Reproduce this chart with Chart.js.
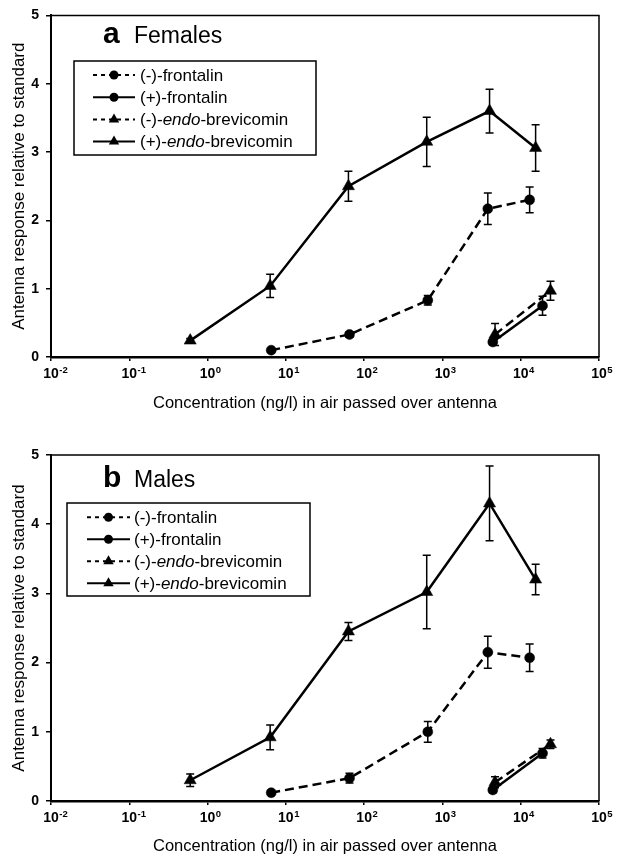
<!DOCTYPE html>
<html>
<head>
<meta charset="utf-8">
<script src="https://cdn.jsdelivr.net/npm/chart.js@4.4.1/dist/chart.umd.min.js"></script>
<style>
  html, body { margin: 0; padding: 0; background: #fff; }
  canvas { display: block; }
</style>
</head>
<body>
<canvas id="chartA" width="619" height="430"></canvas>
<canvas id="chartB" width="619" height="428"></canvas>
<script>
// axis ticks
const xTicks = [0.01, 0.1, 1, 10, 100, 1000, 10000, 100000];
const xTickExponents = ['-2', '-1', '0', '1', '2', '3', '4', '5'];
const yTicks = [0, 1, 2, 3, 4, 5];

const seriesLabels = ['(-)-frontalin', '(+)-frontalin', '(-)-endo-brevicomin', '(+)-endo-brevicomin'];

// panel a: females
const femMinusFrontalinX = [6.5, 65, 650, 3800, 13000];
const femMinusFrontalinY = [0.10, 0.33, 0.83, 2.17, 2.30];
const femMinusFrontalinErr = [0, 0.04, 0.07, 0.23, 0.19];

const femPlusFrontalinX = [4400, 19000];
const femPlusFrontalinY = [0.22, 0.75];
const femPlusFrontalinErr = [0.04, 0.14];

const femMinusEndoX = [4700, 24000];
const femMinusEndoY = [0.33, 0.97];
const femMinusEndoErr = [0.16, 0.14];

const femPlusEndoX = [0.6, 6.3, 63, 630, 4000, 15500];
const femPlusEndoY = [0.24, 1.04, 2.50, 3.15, 3.60, 3.06];
const femPlusEndoErr = [0.03, 0.17, 0.22, 0.36, 0.32, 0.34];

// panel b: males
const maleMinusFrontalinX = [6.5, 65, 650, 3800, 13000];
const maleMinusFrontalinY = [0.12, 0.33, 1.00, 2.15, 2.07];
const maleMinusFrontalinErr = [0, 0.07, 0.15, 0.23, 0.20];

const malePlusFrontalinX = [4400, 19000];
const malePlusFrontalinY = [0.16, 0.69];
const malePlusFrontalinErr = [0.04, 0.07];

const maleMinusEndoX = [4700, 24000];
const maleMinusEndoY = [0.27, 0.82];
const maleMinusEndoErr = [0.08, 0.06];

const malePlusEndoX = [0.6, 6.3, 63, 630, 4000, 15500];
const malePlusEndoY = [0.30, 0.92, 2.45, 3.02, 4.30, 3.20];
const malePlusEndoErr = [0.09, 0.18, 0.13, 0.53, 0.54, 0.22];

const FONT = '"Liberation Sans", Arial, Helvetica, sans-serif';

function toPoints(xs, ys) {
  return xs.map((x, i) => ({ x: x, y: ys[i] }));
}

function makeDataset(label, xs, ys, errs, dashed, pointStyle) {
  return {
    label: label,
    data: toPoints(xs, ys),
    errors: errs,
    borderColor: '#000',
    backgroundColor: '#000',
    borderWidth: 2.5,
    borderDash: dashed ? [9, 5] : [],
    legendDash: dashed ? [4, 4] : [],
    pointStyle: pointStyle,
    pointRadius: pointStyle === 'triangle' ? 7 : 5,
    pointBorderWidth: 0.5,
    tension: 0,
    fill: false,
  };
}

const errorBarsPlugin = {
  id: 'errorBars',
  beforeDatasetsDraw(chart) {
    const { ctx } = chart;
    const xs = chart.scales.x;
    const ys = chart.scales.y;
    ctx.save();
    ctx.strokeStyle = '#000';
    ctx.lineWidth = 1.5;
    chart.data.datasets.forEach((ds) => {
      if (!ds.errors) return;
      ds.data.forEach((pt, i) => {
        const e = ds.errors[i];
        if (!e) return;
        const px = xs.getPixelForValue(pt.x);
        const top = ys.getPixelForValue(pt.y + e);
        const bot = ys.getPixelForValue(pt.y - e);
        ctx.beginPath();
        ctx.moveTo(px, top); ctx.lineTo(px, bot);
        ctx.moveTo(px - 4, top); ctx.lineTo(px + 4, top);
        ctx.moveTo(px - 4, bot); ctx.lineTo(px + 4, bot);
        ctx.stroke();
      });
    });
    ctx.restore();
  },
};

function drawLabelWithItalic(ctx, text, x, y, size) {
  const parts = text.split('endo');
  let cx = x;
  parts.forEach((part, i) => {
    if (i > 0) {
      ctx.font = `italic ${size}px ${FONT}`;
      ctx.fillText('endo', cx, y);
      cx += ctx.measureText('endo').width;
    }
    ctx.font = `${size}px ${FONT}`;
    ctx.fillText(part, cx, y);
    cx += ctx.measureText(part).width;
  });
  return cx;
}

const decorPlugin = {
  id: 'decor',
  afterDraw(chart, args, opts) {
    const { ctx, chartArea } = chart;
    const xs = chart.scales.x;
    ctx.save();

    // frame top and right
    ctx.strokeStyle = '#000';
    ctx.lineWidth = 1.5;
    ctx.beginPath();
    ctx.moveTo(chartArea.left, chartArea.top);
    ctx.lineTo(chartArea.right, chartArea.top);
    ctx.lineTo(chartArea.right, chartArea.bottom);
    ctx.stroke();

    // x tick labels with superscripts
    ctx.fillStyle = '#000';
    ctx.textBaseline = 'alphabetic';
    xTicks.forEach((v, i) => {
      const px = xs.getPixelForValue(v);
      const base = chartArea.bottom + 21;
      ctx.font = `bold 14px ${FONT}`;
      ctx.textAlign = 'center';
      ctx.fillText('10', px, base);
      const w = ctx.measureText('10').width;
      ctx.font = `bold 9.5px ${FONT}`;
      ctx.textAlign = 'left';
      ctx.fillText(xTickExponents[i], px + w / 2 + 0.5, base - 5);
    });

    // panel title
    ctx.textAlign = 'left';
    ctx.font = `bold 30px ${FONT}`;
    ctx.fillText(opts.letter, opts.titleX, opts.titleY);
    ctx.font = `23px ${FONT}`;
    ctx.fillText(opts.title, opts.titleX + 31, opts.titleY);

    // legend
    const lg = opts.legend;
    ctx.lineWidth = 1.5;
    ctx.strokeRect(lg.left, lg.top, lg.right - lg.left, lg.bottom - lg.top);
    chart.data.datasets.forEach((ds, i) => {
      const y = lg.rowY + i * lg.rowGap;
      ctx.save();
      ctx.strokeStyle = '#000';
      ctx.lineWidth = 2;
      ctx.setLineDash(ds.legendDash);
      ctx.beginPath();
      ctx.moveTo(lg.sampleX0, y);
      ctx.lineTo(lg.sampleX1, y);
      ctx.stroke();
      ctx.restore();
      Chart.helpers.drawPoint(ctx, {
        pointStyle: ds.pointStyle,
        radius: ds.pointStyle === 'triangle' ? 6 : 4.5,
        borderWidth: 0,
        rotation: 0,
      }, (lg.sampleX0 + lg.sampleX1) / 2, y);
      ctx.fillStyle = '#000';
      ctx.textBaseline = 'middle';
      drawLabelWithItalic(ctx, ds.label, lg.textX, y + 1, 17);
    });
    ctx.restore();
  },
};

function buildChart(id, datasets, cfg) {
  return new Chart(document.getElementById(id), {
    type: 'line',
    data: { datasets: datasets },
    plugins: [errorBarsPlugin, decorPlugin],
    options: {
      responsive: false,
      animation: false,
      layout: { padding: { left: 0, right: 20, top: cfg.plotTop, bottom: 0 } },
      plugins: {
        legend: { display: false },
        tooltip: { enabled: false },
        decor: cfg.decor,
      },
      scales: {
        x: {
          type: 'logarithmic',
          min: 0.01,
          max: 100000,
          afterBuildTicks: (s) => { s.ticks = xTicks.map((v) => ({ value: v })); },
          afterFit: (s) => { s.height = cfg.xAxisHeight; },
          ticks: { display: false },
          grid: { drawOnChartArea: false, drawTicks: true, tickLength: 4, color: '#000', lineWidth: 1.5 },
          border: { display: true, color: '#000', width: 2.5 },
          title: {
            display: true,
            text: 'Concentration (ng/l) in air passed over antenna',
            color: '#000',
            font: { family: FONT, size: 16.5 },
            padding: { top: 0, bottom: cfg.xTitlePad },
          },
        },
        y: {
          min: 0,
          max: 5,
          afterBuildTicks: (s) => { s.ticks = yTicks.map((v) => ({ value: v })); },
          afterFit: (s) => { s.width = 51; },
          ticks: {
            color: '#000',
            padding: 7,
            font: { family: FONT, size: 14, weight: 'bold' },
          },
          grid: { drawOnChartArea: false, drawTicks: true, tickLength: 5, color: '#000', lineWidth: 1.5 },
          border: { display: true, color: '#000', width: 2 },
          title: {
            display: true,
            text: 'Antenna response relative to standard',
            color: '#000',
            font: { family: FONT, size: 17 },
            padding: { top: 9, bottom: 0 },
          },
        },
      },
    },
  });
}

buildChart('chartA', [
  makeDataset(seriesLabels[0], femMinusFrontalinX, femMinusFrontalinY, femMinusFrontalinErr, true, 'circle'),
  makeDataset(seriesLabels[1], femPlusFrontalinX, femPlusFrontalinY, femPlusFrontalinErr, false, 'circle'),
  makeDataset(seriesLabels[2], femMinusEndoX, femMinusEndoY, femMinusEndoErr, true, 'triangle'),
  makeDataset(seriesLabels[3], femPlusEndoX, femPlusEndoY, femPlusEndoErr, false, 'triangle'),
], {
  plotTop: 10,
  xAxisHeight: 73,
  xTitlePad: 17,
  decor: {
    letter: 'a', title: 'Females', titleX: 103, titleY: 43,
    legend: { left: 74, top: 61, right: 316, bottom: 155, rowY: 75, rowGap: 22.2, sampleX0: 93, sampleX1: 135, textX: 140 },
  },
});

buildChart('chartB', [
  makeDataset(seriesLabels[0], maleMinusFrontalinX, maleMinusFrontalinY, maleMinusFrontalinErr, true, 'circle'),
  makeDataset(seriesLabels[1], malePlusFrontalinX, malePlusFrontalinY, malePlusFrontalinErr, false, 'circle'),
  makeDataset(seriesLabels[2], maleMinusEndoX, maleMinusEndoY, maleMinusEndoErr, true, 'triangle'),
  makeDataset(seriesLabels[3], malePlusEndoX, malePlusEndoY, malePlusEndoErr, false, 'triangle'),
], {
  plotTop: 25,
  xAxisHeight: 57,
  xTitlePad: 2,
  decor: {
    letter: 'b', title: 'Males', titleX: 103, titleY: 57,
    legend: { left: 67, top: 73, right: 310, bottom: 166, rowY: 87.3, rowGap: 22, sampleX0: 87, sampleX1: 130, textX: 134 },
  },
});
</script>
</body>
</html>
